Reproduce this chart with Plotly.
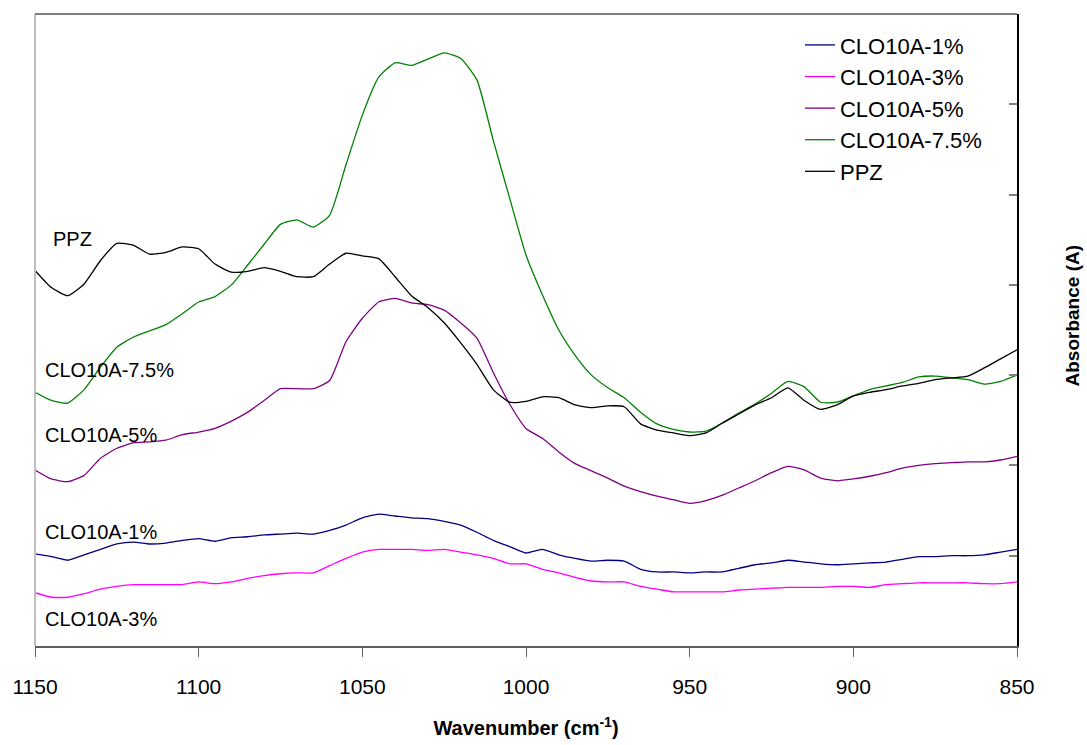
import plotly.graph_objects as go

# Wavenumber grid (cm-1), 1150 -> 850 in 5 cm-1 steps
wavenumber = list(range(1150, 845, -5))

ppz = [0.416, 0.397, 0.388, 0.401, 0.427, 0.446, 0.444, 0.434, 0.436, 0.442,
       0.440, 0.423, 0.414, 0.415, 0.419, 0.415, 0.409, 0.409, 0.423, 0.435,
       0.432, 0.429, 0.409, 0.388, 0.375, 0.358, 0.336, 0.312, 0.284, 0.270,
       0.271, 0.276, 0.275, 0.267, 0.264, 0.266, 0.265, 0.246, 0.239, 0.236,
       0.233, 0.236, 0.247, 0.257, 0.267, 0.275, 0.286, 0.272, 0.262, 0.267,
       0.277, 0.281, 0.284, 0.288, 0.291, 0.295, 0.297, 0.299, 0.308, 0.318,
       0.328]

clo_75 = [0.281, 0.272, 0.269, 0.284, 0.309, 0.331, 0.342, 0.349, 0.356, 0.368,
          0.381, 0.387, 0.400, 0.422, 0.445, 0.467, 0.472, 0.464, 0.477, 0.533,
          0.588, 0.630, 0.646, 0.643, 0.650, 0.657, 0.651, 0.627, 0.560, 0.496,
          0.433, 0.389, 0.350, 0.322, 0.300, 0.286, 0.275, 0.259, 0.246, 0.240,
          0.237, 0.238, 0.247, 0.258, 0.268, 0.280, 0.293, 0.287, 0.270, 0.270,
          0.277, 0.284, 0.288, 0.292, 0.298, 0.299, 0.297, 0.295, 0.290, 0.293,
          0.300]

clo_5 = [0.195, 0.185, 0.182, 0.189, 0.208, 0.219, 0.225, 0.226, 0.228, 0.234,
         0.237, 0.241, 0.249, 0.259, 0.272, 0.285, 0.285, 0.285, 0.294, 0.337,
         0.363, 0.381, 0.385, 0.380, 0.378, 0.372, 0.358, 0.341, 0.303, 0.268,
         0.241, 0.230, 0.215, 0.202, 0.194, 0.186, 0.177, 0.171, 0.166, 0.162,
         0.158, 0.161, 0.167, 0.175, 0.183, 0.192, 0.199, 0.195, 0.186, 0.183,
         0.185, 0.188, 0.192, 0.197, 0.200, 0.202, 0.203, 0.204, 0.204, 0.206,
         0.210]

clo_1 = [0.102, 0.099, 0.095, 0.101, 0.107, 0.113, 0.115, 0.113, 0.114, 0.117,
         0.119, 0.116, 0.120, 0.121, 0.123, 0.124, 0.125, 0.124, 0.128, 0.134,
         0.142, 0.146, 0.144, 0.142, 0.141, 0.138, 0.134, 0.126, 0.117, 0.110,
         0.103, 0.107, 0.101, 0.097, 0.094, 0.095, 0.094, 0.085, 0.082, 0.082,
         0.081, 0.082, 0.082, 0.086, 0.090, 0.092, 0.095, 0.093, 0.091, 0.090,
         0.091, 0.092, 0.093, 0.096, 0.099, 0.099, 0.100, 0.100, 0.101, 0.104,
         0.107]

clo_3 = [0.059, 0.054, 0.054, 0.058, 0.063, 0.066, 0.068, 0.068, 0.068, 0.068,
         0.071, 0.069, 0.071, 0.075, 0.078, 0.080, 0.081, 0.081, 0.089, 0.097,
         0.104, 0.107, 0.107, 0.107, 0.106, 0.107, 0.104, 0.101, 0.097, 0.091,
         0.091, 0.085, 0.081, 0.076, 0.072, 0.071, 0.071, 0.066, 0.063, 0.060,
         0.060, 0.060, 0.060, 0.062, 0.063, 0.064, 0.065, 0.065, 0.065, 0.066,
         0.066, 0.065, 0.068, 0.069, 0.070, 0.070, 0.070, 0.070, 0.069, 0.069,
         0.071]

series = [
    ("CLO10A-1%", clo_1, "#000080"),
    ("CLO10A-3%", clo_3, "#FF00FF"),
    ("CLO10A-5%", clo_5, "#800080"),
    ("CLO10A-7.5%", clo_75, "#008000"),
    ("PPZ", ppz, "#000000"),
]

# In-plot curve labels: (text, wavenumber of left edge, absorbance level)
curve_labels = [
    ("PPZ", 1145.2, 0.451),
    ("CLO10A-7.5%", 1147.6, 0.306),
    ("CLO10A-5%", 1147.6, 0.234),
    ("CLO10A-1%", 1147.6, 0.126),
    ("CLO10A-3%", 1147.6, 0.030),
]

x_ticks = [1150, 1100, 1050, 1000, 950, 900, 850]

fig = go.Figure()
for name, values, color in series:
    fig.add_trace(go.Scatter(
        x=wavenumber, y=values, name=name, mode="lines",
        line=dict(color=color, width=1.3, shape="spline", smoothing=0.5),
    ))

for text, wn, level in curve_labels:
    fig.add_annotation(
        x=wn, y=level, text=text, showarrow=False,
        xanchor="left", yanchor="middle",
        font=dict(family="Arial, Liberation Sans", size=20, color="black"),
    )

# y-axis title on the right, reading bottom to top
fig.add_annotation(
    xref="paper", yref="paper", x=1.056, y=0.523,
    text="<b>Absorbance (A)</b>", textangle=-90, showarrow=False,
    xanchor="center", yanchor="middle",
    font=dict(family="Arial, Liberation Sans", size=19, color="black"),
)

# left and top frame edges
fig.add_shape(type="line", xref="paper", yref="paper", x0=0, x1=0, y0=0, y1=1,
              line=dict(color="#C0C0C0", width=2))
fig.add_shape(type="line", xref="paper", yref="paper", x0=0, x1=1, y0=1, y1=1,
              line=dict(color="#808080", width=2))

fig.update_layout(
    width=1087, height=745, autosize=False,
    margin=dict(l=35, r=70, t=14, b=99),
    paper_bgcolor="white", plot_bgcolor="white",
    font=dict(family="Arial, Liberation Sans", color="black"),
    showlegend=True,
    legend=dict(
        x=0.779, y=0.984, xanchor="left", yanchor="top",
        bgcolor="rgba(0,0,0,0)", borderwidth=0,
        font=dict(size=22, color="black"),
        traceorder="normal",
    ),
    xaxis=dict(
        range=[1150, 850], tickvals=x_ticks, ticktext=[str(v) for v in x_ticks],
        ticks="outside", ticklen=9, tickwidth=1, tickcolor="#606060",
        ticklabelstandoff=12, automargin=False,
        showline=True, linecolor="#606060", linewidth=2,
        showgrid=False, zeroline=False,
        tickfont=dict(size=21, color="black"),
        title=dict(text="<b>Wavenumber (cm<sup>-1</sup>)</b>",
                   font=dict(size=20, color="black"), standoff=24),
    ),
    yaxis=dict(
        range=[0, 0.7], dtick=0.1, side="right",
        ticks="inside", ticklen=8, tickwidth=2, tickcolor="#808080",
        showticklabels=False, automargin=False,
        showline=True, linecolor="black", linewidth=2,
        showgrid=False, zeroline=False,
    ),
)

fig.write_html("out.html")
